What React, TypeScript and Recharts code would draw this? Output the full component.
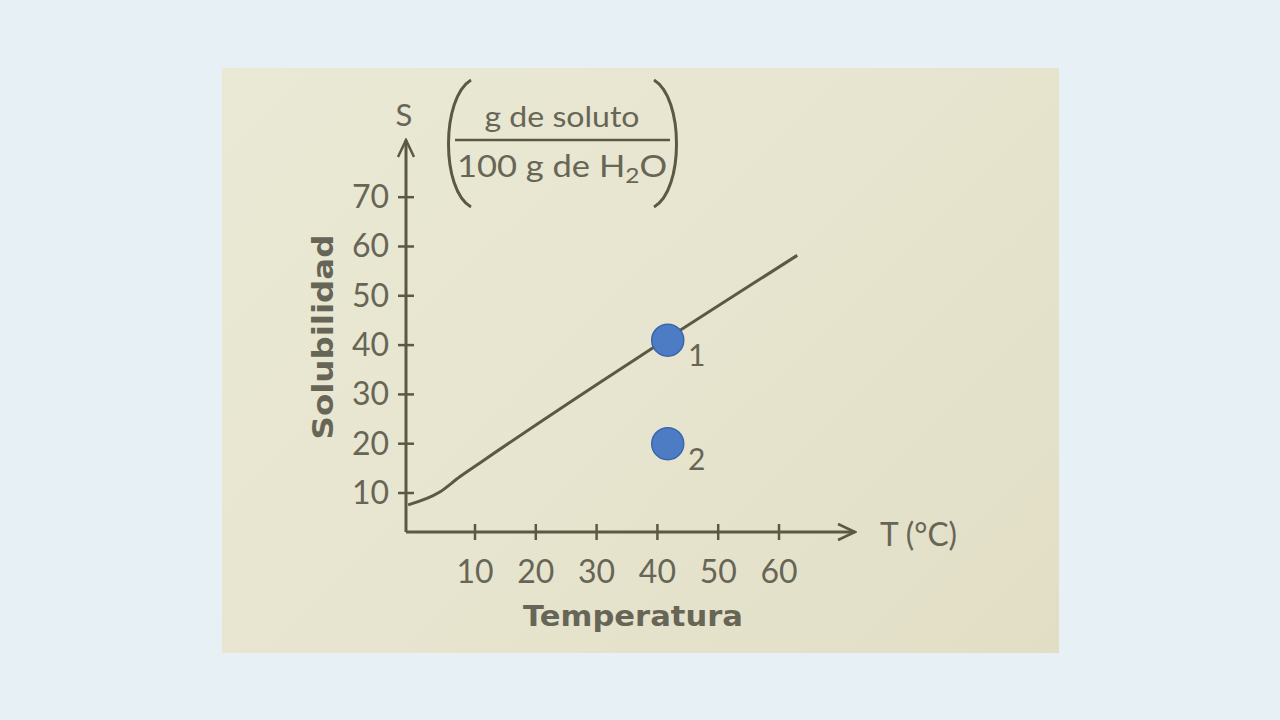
import React from 'react';
import { ComposedChart, Line, Scatter, XAxis, YAxis } from 'recharts';

// solubility curve (T in °C, S in g / 100 g H2O)
const curveT = [-1.0, 4.2, 7.5, 10.8, 63.0];
const curveS = [7.6, 10.2, 13.3, 16.1, 58.2];

// marked solutions
const pointT = [41.7, 41.7];
const pointS = [41.0, 20.0];
const pointLabels = ['1', '2'];

const xTicks = [10, 20, 30, 40, 50, 60];
const yTicks = [10, 20, 30, 40, 50, 60, 70];

const curveData = curveT.map((t, i) => ({ t, s: curveS[i] }));
const pointData = pointT.map((t, i) => ({ t, s: pointS[i], label: pointLabels[i] }));

const INK = '#5b5944';
const TEXT = '#676556';
const FONT = 'Lato, "Open Sans", sans-serif';
const BOLD = '"DejaVu Sans", Lato, sans-serif';

function XTick(props: any) {
  const { x, y, payload } = props;
  return (
    <g>
      <line x1={x} x2={x} y1={y - 8} y2={y + 8} stroke={INK} strokeWidth={2.5} />
      <text x={x} y={y + 51} textAnchor="middle" fill={TEXT} fontFamily={FONT} fontSize={32}>
        {payload.value}
      </text>
    </g>
  );
}

function YTick(props: any) {
  const { x, y, payload } = props;
  return (
    <g>
      <line x1={x - 8} x2={x + 8} y1={y} y2={y} stroke={INK} strokeWidth={2.5} />
      <text x={x - 17} y={y + 11} textAnchor="end" fill={TEXT} fontFamily={FONT} fontSize={32}>
        {payload.value}
      </text>
    </g>
  );
}

function Dot(props: any) {
  const { cx, cy, payload } = props;
  return (
    <g>
      <circle cx={cx} cy={cy} r={16} fill="#4d7cc4" stroke="#3a66ad" strokeWidth={1.5} />
      <text x={cx + 29} y={cy + 26} textAnchor="middle" fill={TEXT} fontFamily={FONT} fontSize={30}>
        {payload.label}
      </text>
    </g>
  );
}

export default function App() {
  return (
    <div
      style={{
        position: 'absolute',
        left: 0,
        top: 0,
        width: 1280,
        height: 720,
        overflow: 'hidden',
        background: '#e7f0f4',
      }}
    >
      <svg width={0} height={0} style={{ position: 'absolute' }}>
        <defs>
          <marker
            id="arrowHead"
            viewBox="0 0 20 20"
            refX={18}
            refY={10}
            markerWidth={20}
            markerHeight={20}
            markerUnits="userSpaceOnUse"
            orient="auto-start-reverse"
          >
            <path d="M1,2 L18,10 L1,18" fill="none" stroke={INK} strokeWidth={2.5} />
          </marker>
        </defs>
      </svg>

      {/* the scanned page */}
      <div
        style={{
          position: 'absolute',
          left: 222,
          top: 68,
          width: 837,
          height: 585,
          background: 'linear-gradient(135deg, #eae9d5 0%, #e7e5cf 50%, #e2dec6 100%)',
        }}
      />

      <div style={{ position: 'absolute', left: 0, top: 0 }}>
        <ComposedChart
          width={1280}
          height={720}
          margin={{ top: 140, right: 425, bottom: 158, left: 366 }}
        >
          <XAxis
            dataKey="t"
            type="number"
            domain={[-1.35, 72.5]}
            ticks={xTicks}
            allowDataOverflow
            height={30}
            tickSize={0}
            tickMargin={0}
            tickLine={false}
            tick={<XTick />}
            axisLine={{ stroke: INK, strokeWidth: 3, markerEnd: 'url(#arrowHead)' }}
          />
          <YAxis
            dataKey="s"
            type="number"
            domain={[2.09, 81.6]}
            ticks={yTicks}
            allowDataOverflow
            width={40}
            tickSize={0}
            tickMargin={0}
            tickLine={false}
            tick={<YTick />}
            axisLine={{ stroke: INK, strokeWidth: 3, markerStart: 'url(#arrowHead)' }}
          />
          <Line
            data={curveData}
            dataKey="s"
            type="monotone"
            stroke={INK}
            strokeWidth={3}
            dot={false}
            isAnimationActive={false}
          />
          <Scatter data={pointData} dataKey="s" shape={<Dot />} isAnimationActive={false} />
        </ComposedChart>
      </div>

      {/* axis captions and unit */}
      <svg width={1280} height={720} style={{ position: 'absolute', left: 0, top: 0 }}>
        <text x={404} y={126} textAnchor="middle" fill={TEXT} fontFamily={FONT} fontSize={31}>
          S
        </text>
        <path d="M471,80 C441,98 441,190 471,207" fill="none" stroke={INK} strokeWidth={3} />
        <path d="M654,80 C684,98 684,190 654,207" fill="none" stroke={INK} strokeWidth={3} />
        <text
          x={562}
          y={127}
          textAnchor="middle"
          fill={TEXT}
          fontFamily={FONT}
          fontSize={28}
          textLength={155}
          lengthAdjust="spacingAndGlyphs"
        >
          g de soluto
        </text>
        <line x1={455} x2={670} y1={140} y2={140} stroke={INK} strokeWidth={2.5} />
        <text
          x={562}
          y={177}
          textAnchor="middle"
          fill={TEXT}
          fontFamily={FONT}
          fontSize={31}
          textLength={210}
          lengthAdjust="spacingAndGlyphs"
        >
          100 g de H<tspan fontSize={22} dy={6}>2</tspan>
          <tspan dy={-6}>O</tspan>
        </text>
        <text
          x={880}
          y={546}
          fill={TEXT}
          fontFamily={FONT}
          fontSize={32}
          textLength={77}
          lengthAdjust="spacingAndGlyphs"
        >
          T (°C)
        </text>
        <text
          x={633}
          y={626}
          textAnchor="middle"
          fill={TEXT}
          fontFamily={BOLD}
          fontWeight="bold"
          fontSize={29}
          textLength={220}
          lengthAdjust="spacingAndGlyphs"
        >
          Temperatura
        </text>
        <text
          x={0}
          y={0}
          transform="translate(333,337) rotate(-90)"
          textAnchor="middle"
          fill={TEXT}
          fontFamily={BOLD}
          fontWeight="bold"
          fontSize={29}
          textLength={205}
          lengthAdjust="spacingAndGlyphs"
        >
          Solubilidad
        </text>
      </svg>
    </div>
  );
}
